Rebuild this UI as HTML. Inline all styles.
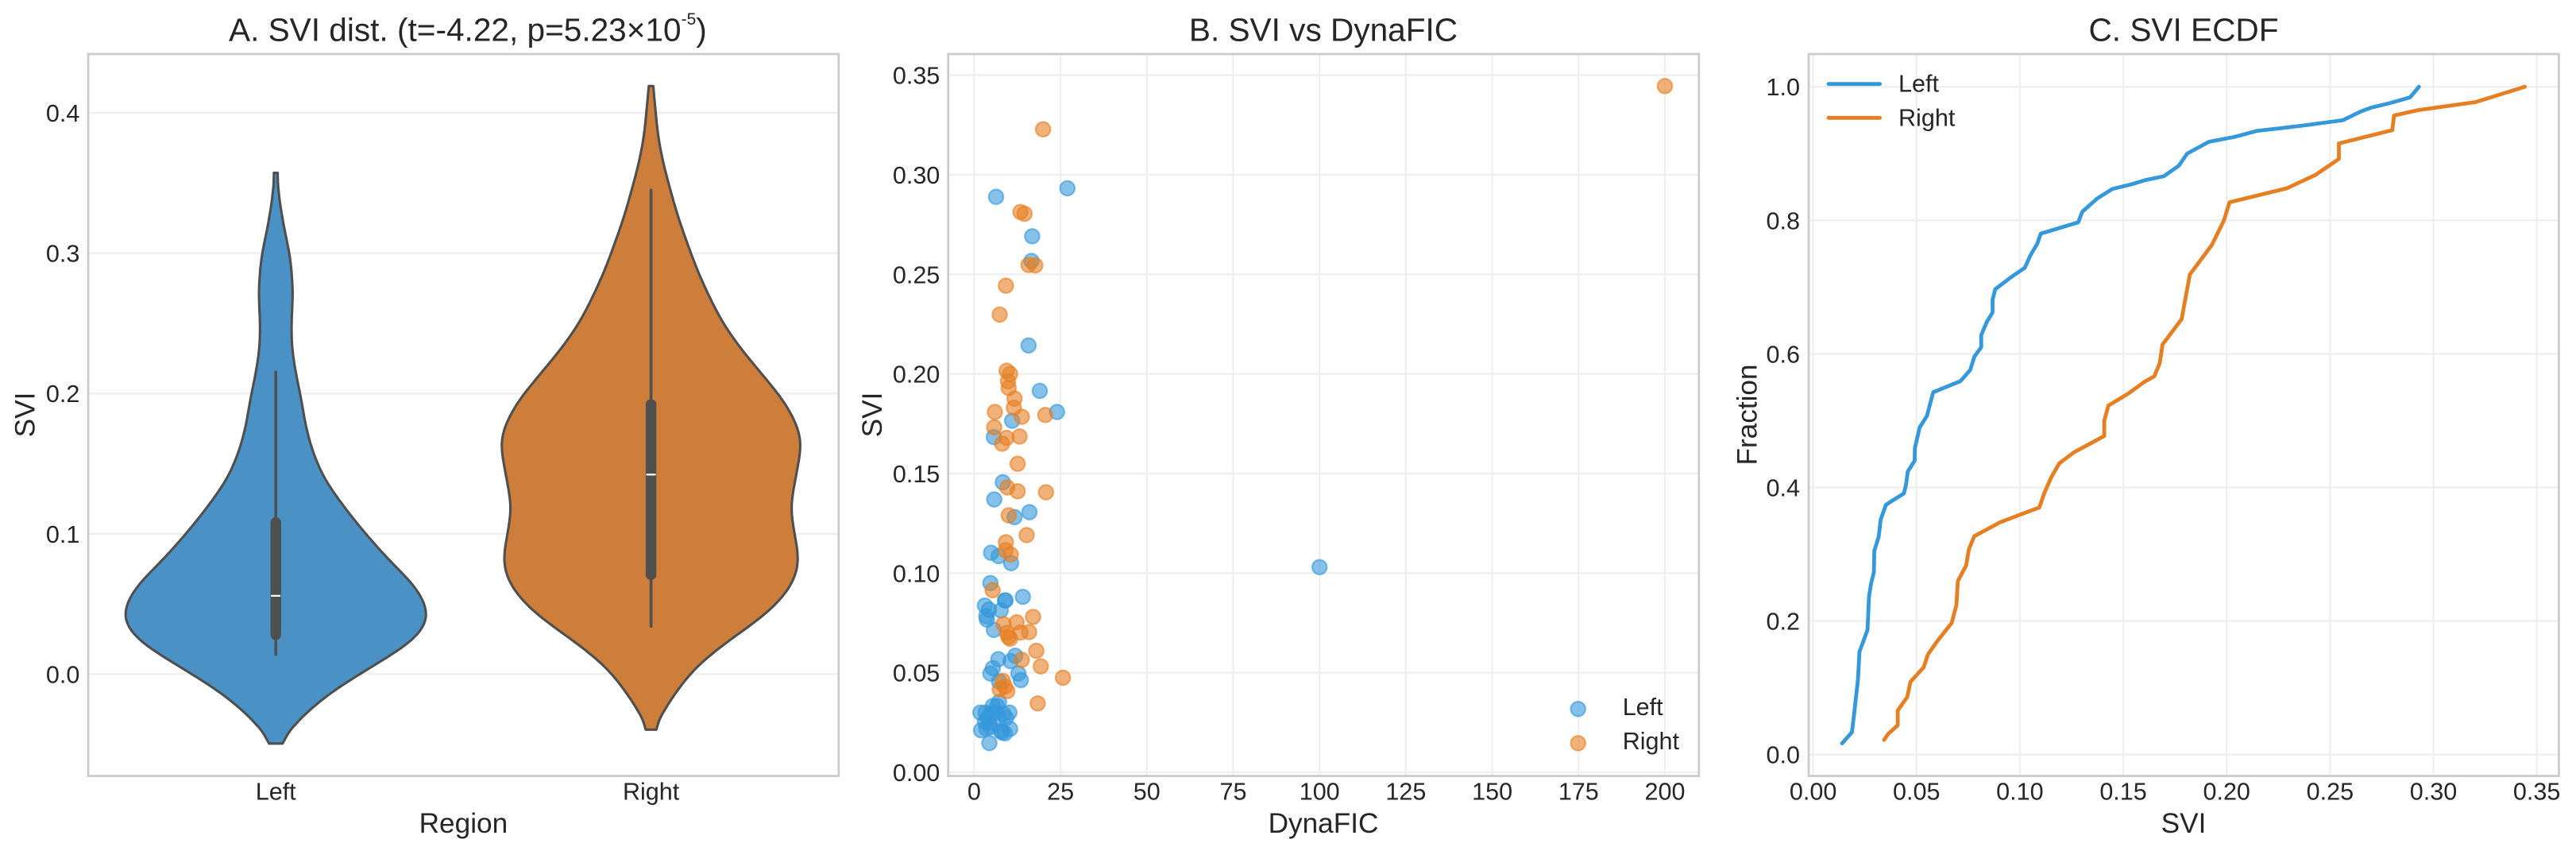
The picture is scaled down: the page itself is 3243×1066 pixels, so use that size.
<!DOCTYPE html>
<html lang="en">
<head>
<meta charset="utf-8">
<title>SVI charts</title>
<style>
html,body{margin:0;padding:0;background:#fff;}
svg{display:block;font-family:"Liberation Sans",Arial,sans-serif;}
text{fill:#262626;}
.title{font-size:40.6px;}
.label{font-size:35.2px;}
.tick{font-size:30.56px;}
</style>
</head>
<body>
<svg id="figure" xmlns="http://www.w3.org/2000/svg" width="3243" height="1066" viewBox="0 0 3243 1066">
<rect x="0" y="0" width="3243" height="1066" fill="#ffffff"/>
<g id="layerA"></g>
<g id="layerB"></g>
<g id="layerC"></g>

<text class="title" x="288" y="51.7">A. SVI dist. (t=-4.22, p=5.23×10<tspan font-size="21" dy="-20.5">-5</tspan><tspan dy="20.5">)</tspan></text>
<text class="label" x="583.4" y="1048" text-anchor="middle">Region</text>
<text class="label" transform="translate(43.3 522) rotate(-90)" text-anchor="middle">SVI</text>

<text class="title" x="1666" y="51.7" text-anchor="middle">B. SVI vs DynaFIC</text>
<text class="label" x="1666" y="1048" text-anchor="middle">DynaFIC</text>
<text class="label" transform="translate(1110 522) rotate(-90)" text-anchor="middle">SVI</text>
<g>
  <g>
    <circle cx="1986.7" cy="892.3" r="9.2" fill="#3498db" fill-opacity="0.6" stroke="#3498db" stroke-opacity="0.6" stroke-width="2.2"/>
    <text class="tick" x="2042.7" y="900">Left</text>
  </g>
  <g>
    <circle cx="1986.7" cy="935.3" r="9.2" fill="#e67e22" fill-opacity="0.6" stroke="#e67e22" stroke-opacity="0.6" stroke-width="2.2"/>
    <text class="tick" x="2042.7" y="943">Right</text>
  </g>
</g>

<text class="title" x="2749" y="51.7" text-anchor="middle">C. SVI ECDF</text>
<text class="label" x="2749" y="1048" text-anchor="middle">SVI</text>
<text class="label" transform="translate(2211.6 522) rotate(-90)" text-anchor="middle">Fraction</text>
<g>
  <g>
    <line x1="2302" y1="105.7" x2="2366.6" y2="105.7" stroke="#3498db" stroke-width="4.8" stroke-linecap="round"/>
    <text class="tick" x="2390" y="115.7">Left</text>
  </g>
  <g>
    <line x1="2302" y1="148.3" x2="2366.6" y2="148.3" stroke="#e67e22" stroke-width="4.8" stroke-linecap="round"/>
    <text class="tick" x="2390" y="158.3">Right</text>
  </g>
</g>
</svg>

<script>
// ---------- Panel A data ----------
const violinCategories = ['Left', 'Right'];
const violinYTicks = [0.0, 0.1, 0.2, 0.3, 0.4];
const leftViolinSvi = [0.3572,0.3457,0.3322,0.3168,0.2995,0.2879,0.2706,0.2533,0.2360,0.2225,0.2071,0.1917,0.1786,0.1593,0.1401,0.1208,0.1016,0.0823,0.0631,0.0535,0.0420,0.0304,0.0189,0.0054,-0.0139,-0.0254,-0.0370,-0.0495];
const leftViolinDensity = [0.005,0.006,0.013,0.023,0.037,0.042,0.046,0.042,0.042,0.048,0.059,0.071,0.078,0.097,0.127,0.177,0.234,0.298,0.370,0.392,0.408,0.390,0.341,0.256,0.141,0.091,0.044,0.018];
const rightViolinSvi = [0.4191,0.4011,0.3823,0.3634,0.3445,0.3257,0.3067,0.2879,0.2690,0.2501,0.2312,0.2124,0.1935,0.1746,0.1643,0.1463,0.1190,0.0992,0.0793,0.0614,0.0425,0.0236,0.0048,-0.0141,-0.0292,-0.0396];
const rightViolinDensity = [0.006,0.012,0.019,0.033,0.052,0.072,0.097,0.123,0.155,0.191,0.241,0.300,0.358,0.394,0.402,0.390,0.371,0.383,0.396,0.373,0.307,0.205,0.117,0.063,0.026,0.014];
const whiskerLow = [0.0140, 0.0340];
const whiskerHigh = [0.2152, 0.3449];
const quartileLow = [0.0252, 0.0680];
const quartileHigh = [0.1109, 0.1950];
const medians = [0.0558, 0.1422];

// ---------- Panel B data ----------
const scatterXTicks = [0, 25, 50, 75, 100, 125, 150, 175, 200];
const scatterYTicks = [0.00, 0.05, 0.10, 0.15, 0.20, 0.25, 0.30, 0.35];
const leftDynaFIC = [27.0,6.35,16.8,16.6,15.75,19.0,24.0,11.0,5.7,8.3,5.8,16,11.7,4.9,7.1,10.7,100,4.7,14.1,8.9,9.1,3.1,4.3,7.7,3.5,3.7,5.7,7.0,11.9,10.55,5.4,4.7,12.8,13.5,7.2,7.2,5.4,6.6,1.8,3.3,4.7,6.3,8.5,10.2,3.9,7,9.25,3.1,4.3,2,3.5,4.7,7.7,10.4,8.9,8.1,4.4];
const leftSvi = [0.2932,0.2889,0.2691,0.2567,0.2143,0.1915,0.1809,0.1765,0.1683,0.1456,0.1370,0.1306,0.1281,0.1102,0.1085,0.1050,0.103,0.0950,0.0881,0.0863,0.0863,0.0837,0.0817,0.0813,0.0784,0.0767,0.0715,0.0568,0.0585,0.0558,0.0523,0.0496,0.0496,0.0463,0.0456,0.0353,0.0333,0.0333,0.0300,0.0300,0.0293,0.0300,0.0293,0.0300,0.0273,0.0267,0.0273,0.0253,0.0247,0.0211,0.0220,0.0227,0.0207,0.0218,0.0196,0.0200,0.0147];
const rightDynaFIC = [200,19.95,13.4,14.6,15.75,17.7,9.2,7.4,9.4,10.4,9.8,10,11.7,11.5,6.0,20.6,13.8,5.8,9.4,13.15,8.1,12.6,9.6,12.6,20.8,10,15.2,9.2,9.1,10.6,5.35,17.05,12.3,8.5,9.5,13.45,15.9,10.4,9.9,18,13.8,19.3,25.7,8.3,8.9,7.4,9.6,18.4];
const rightSvi = [0.3445,0.3228,0.2813,0.2804,0.2547,0.2545,0.2443,0.2298,0.2016,0.2000,0.1963,0.1929,0.1876,0.1830,0.1809,0.1794,0.1785,0.1732,0.1679,0.1686,0.1650,0.1549,0.1430,0.1411,0.1406,0.1290,0.1191,0.1155,0.1115,0.1093,0.0914,0.0780,0.0753,0.0744,0.0700,0.0702,0.0704,0.0671,0.0680,0.0610,0.0565,0.0532,0.0475,0.0459,0.0430,0.0416,0.0408,0.0346];

// ---------- Panel C data ----------
const ecdfXTicks = ['0.00','0.05','0.10','0.15','0.20','0.25','0.30','0.35'];
const ecdfYTicks = ['0.0','0.2','0.4','0.6','0.8','1.0'];
const ecdfLeftSvi = [0.0140,0.0188,0.0198,0.0217,0.0224,0.0243,0.0263,0.0270,0.0280,0.0294,0.0296,0.0317,0.0327,0.0352,0.0376,0.0439,0.0449,0.0458,0.0491,0.0492,0.0515,0.0550,0.0581,0.0713,0.0760,0.0780,0.0813,0.0813,0.0840,0.0868,0.0868,0.0881,0.0958,0.1024,0.1050,0.1084,0.1101,0.1282,0.1302,0.1375,0.1447,0.1540,0.1603,0.1696,0.1769,0.1809,0.1914,0.2040,0.2146,0.2265,0.2397,0.2563,0.2649,0.2702,0.2794,0.2887,0.2930];
const ecdfLeftFraction = [0.0168,0.0336,0.0598,0.113,0.154,0.170,0.187,0.236,0.256,0.273,0.305,0.326,0.352,0.374,0.379,0.391,0.404,0.424,0.440,0.459,0.490,0.507,0.5426,0.5593,0.576,0.596,0.610,0.628,0.648,0.662,0.681,0.697,0.715,0.729,0.747,0.765,0.780,0.797,0.813,0.833,0.847,0.854,0.860,0.866,0.882,0.900,0.9175,0.925,0.934,0.938,0.943,0.950,0.963,0.969,0.976,0.984,1.0];
const ecdfRightSvi = [0.0343,0.0363,0.0409,0.0409,0.0455,0.0471,0.0535,0.0555,0.0601,0.0670,0.0693,0.0700,0.0740,0.0753,0.0779,0.0905,0.0998,0.1094,0.1117,0.1150,0.1190,0.1263,0.1408,0.1408,0.1428,0.1526,0.1604,0.1650,0.1676,0.1690,0.1782,0.1822,0.1928,0.1987,0.2014,0.2291,0.2430,0.2543,0.2543,0.2801,0.2810,0.2926,0.3204,0.3442];
const ecdfRightFraction = [0.022,0.031,0.044,0.066,0.086,0.109,0.131,0.150,0.170,0.197,0.224,0.260,0.283,0.307,0.327,0.348,0.359,0.370,0.391,0.414,0.436,0.453,0.477,0.500,0.5225,0.541,0.5585,0.5665,0.586,0.614,0.652,0.719,0.763,0.800,0.827,0.848,0.868,0.892,0.915,0.935,0.957,0.965,0.977,1.0];

// ---------- Axis functions ----------
const TOP = 68, BOTTOM = 976.6;
const violinX = c => 347.2 + c * 472.4;
const violinY = v => 848.4 - 1766 * v;
const scatterX = v => 1226.4 + 4.348 * v;
const scatterY = v => 972 - 2507 * v;
const ecdfX = v => 2282.6 + 2603 * v;
const ecdfY = v => 949.7 - 840.5 * v;

const NS = 'http://www.w3.org/2000/svg';
function make(parent, tag, attrs, text) {
  const el = document.createElementNS(NS, tag);
  for (const k in attrs) el.setAttribute(k, attrs[k]);
  if (text !== undefined) el.textContent = text;
  parent.appendChild(el);
  return el;
}
const GRID = '#efefef', SPINE = '#cccccc';

function hGrid(parent, y, l, r, name) {
  const el = make(parent, 'line', {x1: l, x2: r, y1: y, y2: y, stroke: GRID, 'stroke-width': 2.4});
  
  
}
function vGrid(parent, x, name) {
  const el = make(parent, 'line', {x1: x, x2: x, y1: TOP, y2: BOTTOM, stroke: GRID, 'stroke-width': 2.2});
  
  
}
function yTick(parent, right, y, label, name) {
  const el = make(parent, 'text', {class: 'tick', x: right, y: y + 11, 'text-anchor': 'end'}, label);
  
  
}
function xTick(parent, x, label, name) {
  const el = make(parent, 'text', {class: 'tick', x: x, y: 1006.3, 'text-anchor': 'middle'}, label);
  
  
}
function spine(parent, l, r, name) {
  const el = make(parent, 'rect', {x: l, y: TOP, width: r - l, height: BOTTOM - TOP, fill: 'none', stroke: SPINE, 'stroke-width': 2.8});
  
  
}

// Turn the read outline (top to bottom) into an even, gently smoothed contour.
function contour(svi, density) {
  const n = 260, K = 9, top = svi[0], bottom = svi[svi.length - 1];
  const ys = [], ws = [];
  let seg = 0;
  for (let i = 0; i < n; i++) {
    const y = top + (bottom - top) * i / (n - 1);
    while (seg < svi.length - 2 && y < svi[seg + 1]) seg++;
    const t = (svi[seg] - y) / (svi[seg] - svi[seg + 1]);
    ys.push(y);
    ws.push(density[seg] + (density[seg + 1] - density[seg]) * t);
  }
  const out = ws.map((w, i) => {
    const k = Math.min(K, i, n - 1 - i);
    let sum = 0, norm = 0;
    for (let j = -k; j <= k; j++) {
      const g = k + 1 - Math.abs(j);
      sum += ws[i + j] * g;
      norm += g;
    }
    return sum / norm;
  });
  return {ys: ys, ws: out};
}

// ---------- Panel A ----------
const layerA = document.getElementById('layerA');
violinYTicks.forEach(v => {
  hGrid(layerA, violinY(v), 111, 1055.8, 'violin-grid-' + v.toFixed(1));
  yTick(layerA, 100.4, violinY(v), v.toFixed(1), 'violin-y-tick-' + v.toFixed(1));
});
spine(layerA, 111, 1055.8, 'violin-axes-frame');
violinCategories.forEach((c, i) => {
  xTick(layerA, violinX(i), c, 'violin-x-tick-' + c.toLowerCase());
});

function drawViolin(index, svi, density, fill, key) {
  const cx = violinX(index);
  const c = contour(svi, density);
  const leftSide = c.ys.map((v, i) => violinX(index - c.ws[i]).toFixed(1) + ' ' + violinY(v).toFixed(1));
  const rightSide = c.ys.map((v, i) => violinX(index + c.ws[i]).toFixed(1) + ' ' + violinY(v).toFixed(1)).reverse();
  const d = 'M' + leftSide.concat(rightSide).join('L') + 'Z';
  const body = make(layerA, 'path', {d: d, fill: fill, stroke: '#4f4f4f', 'stroke-width': 3.1, 'stroke-linejoin': 'round'});
  
  
  const whisker = make(layerA, 'line', {x1: cx, x2: cx, y1: violinY(whiskerHigh[index]), y2: violinY(whiskerLow[index]), stroke: '#4f4f4f', 'stroke-width': 3.6, 'stroke-linecap': 'round'});
  
  
  const box = make(layerA, 'line', {x1: cx, x2: cx, y1: violinY(quartileHigh[index]) + 5, y2: violinY(quartileLow[index]) - 5, stroke: '#4f4f4f', 'stroke-width': 13.4, 'stroke-linecap': 'round'});
  
  
  const median = make(layerA, 'line', {x1: cx - 6, x2: cx + 6, y1: violinY(medians[index]), y2: violinY(medians[index]), stroke: '#ffffff', 'stroke-width': 2.2});
  
  
}
drawViolin(0, leftViolinSvi, leftViolinDensity, '#4a92c6', 'left');
drawViolin(1, rightViolinSvi, rightViolinDensity, '#cc7e3a', 'right');

// ---------- Panel B ----------
const layerB = document.getElementById('layerB');
scatterXTicks.forEach(v => {
  vGrid(layerB, scatterX(v), 'scatter-x-grid-' + v);
  xTick(layerB, scatterX(v), String(v), 'scatter-x-tick-' + v);
});
scatterYTicks.forEach(v => {
  hGrid(layerB, scatterY(v), 1193.7, 2138.8, 'scatter-y-grid-' + v.toFixed(2));
  yTick(layerB, 1183.3, scatterY(v), v.toFixed(2), 'scatter-y-tick-' + v.toFixed(2));
});
spine(layerB, 1193.7, 2138.8, 'scatter-axes-frame');
function drawPoints(xs, ys, color, key) {
  xs.forEach((x, i) => {
    const pt = make(layerB, 'circle', {cx: scatterX(x), cy: scatterY(ys[i]), r: 9.2, fill: color, 'fill-opacity': 0.6, stroke: color, 'stroke-opacity': 0.6, 'stroke-width': 2.2});
    
    
  });
}
drawPoints(leftDynaFIC, leftSvi, '#3498db', 'left');
drawPoints(rightDynaFIC, rightSvi, '#e67e22', 'right');

// ---------- Panel C ----------
const layerC = document.getElementById('layerC');
ecdfXTicks.forEach(t => {
  vGrid(layerC, ecdfX(parseFloat(t)), 'ecdf-x-grid-' + t);
  xTick(layerC, ecdfX(parseFloat(t)), t, 'ecdf-x-tick-' + t);
});
ecdfYTicks.forEach(t => {
  hGrid(layerC, ecdfY(parseFloat(t)), 2277, 3221.4, 'ecdf-y-grid-' + t);
  yTick(layerC, 2266, ecdfY(parseFloat(t)), t, 'ecdf-y-tick-' + t);
});
spine(layerC, 2277, 3221.4, 'ecdf-axes-frame');
function drawEcdf(xs, ys, color, key) {
  const pts = xs.map((x, i) => ecdfX(x).toFixed(1) + ',' + ecdfY(ys[i]).toFixed(1)).join(' ');
  const line = make(layerC, 'polyline', {points: pts, fill: 'none', stroke: color, 'stroke-width': 4.8, 'stroke-linejoin': 'round', 'stroke-linecap': 'round'});
  
  
}
drawEcdf(ecdfLeftSvi, ecdfLeftFraction, '#3498db', 'left');
drawEcdf(ecdfRightSvi, ecdfRightFraction, '#e67e22', 'right');
</script>
</body>
</html>
